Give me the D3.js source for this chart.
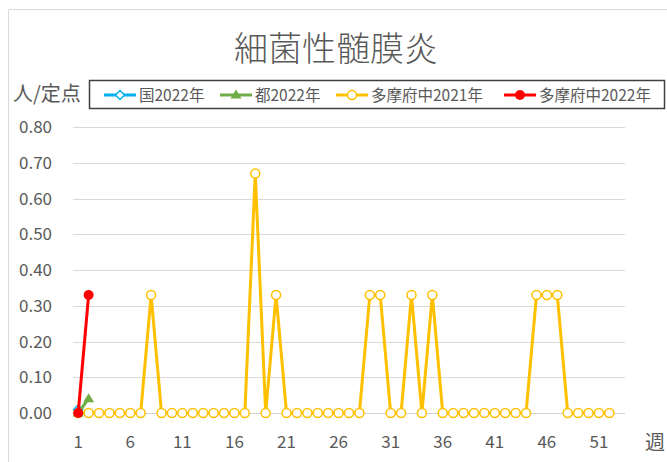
<!DOCTYPE html>
<html>
<head>
<meta charset="utf-8">
<script src="https://cdn.jsdelivr.net/npm/d3@7"></script>
<style>
  body { margin: 0; background: #fff; }
  svg text { font-family: "Noto Sans CJK JP", "Noto Sans", sans-serif; fill: #595959; }
</style>
</head>
<body>
<svg id="chart" width="667" height="462"></svg>
<script>
// weeks 1..53 on the category axis, labels every 5th
var weeks = d3.range(1, 54)
var weekTicks = [1, 6, 11, 16, 21, 26, 31, 36, 41, 46, 51]
var yTicks = [0, 0.1, 0.2, 0.3, 0.4, 0.5, 0.6, 0.7, 0.8]

// series values (人/定点)
var kuni2022 = [0.01]
var to2022 = [0, 0.04]
var tama2021 = [0, 0, 0, 0, 0, 0, 0, 0.33, 0, 0, 0, 0, 0, 0, 0, 0, 0, 0.67, 0, 0.33,
  0, 0, 0, 0, 0, 0, 0, 0, 0.33, 0.33, 0, 0, 0.33, 0, 0.33, 0, 0, 0, 0, 0,
  0, 0, 0, 0, 0.33, 0.33, 0.33, 0, 0, 0, 0, 0]
var tama2022 = [0, 0.33]

var seriesNames = ["国2022年", "都2022年", "多摩府中2021年", "多摩府中2022年"]
var seriesColors = ["#00b0f0", "#70ad47", "#ffc000", "#ff0000"]

var svg = d3.select("#chart")

// outer chart border
svg.append("path")
  .attr("d", "M8.5,462 L8.5,9.5 L667,9.5")
  .attr("fill", "none")
  .attr("stroke", "#d9d9d9")

var x = d3.scaleBand().domain(weeks).range([73, 625])
var y = d3.scaleLinear().domain([0, 0.8]).range([413, 127])
function cx(i) { return x(weeks[i]) + x.bandwidth() / 2 }

// title
svg.append("text")
  .attr("x", 336).attr("y", 61)
  .attr("text-anchor", "middle")
  .style("font-size", "34px")
  .style("font-weight", 300)
  .text("細菌性髄膜炎")

// gridlines
svg.append("g").selectAll("line")
  .data(yTicks)
  .enter().append("line")
  .attr("x1", 73).attr("x2", 625)
  .attr("y1", function(d) { return Math.round(y(d)) + 0.5 })
  .attr("y2", function(d) { return Math.round(y(d)) + 0.5 })
  .attr("stroke", function(d) { return d == 0 ? "#d0d0d0" : "#d9d9d9" })

// y tick labels
svg.append("g").selectAll("text")
  .data(yTicks)
  .enter().append("text")
  .attr("x", 52)
  .attr("y", function(d) { return y(d) + 6 })
  .attr("text-anchor", "end")
  .style("font-size", "17px")
  .text(function(d) { return d.toFixed(2) })

// x tick labels
svg.append("g").selectAll("text")
  .data(weekTicks)
  .enter().append("text")
  .attr("x", function(d) { return x(d) + x.bandwidth() / 2 })
  .attr("y", 448)
  .attr("text-anchor", "middle")
  .style("font-size", "17px")
  .text(function(d) { return d })

// axis titles
svg.append("text").attr("x", 13).attr("y", 101)
  .style("font-size", "20px").text("人/定点")
svg.append("text").attr("x", 645).attr("y", 450)
  .style("font-size", "20px").text("週")

// legend
svg.append("rect")
  .attr("x", 89.5).attr("y", 80.5)
  .attr("width", 575).attr("height", 28)
  .attr("fill", "#fff")
  .attr("stroke", "#404040")
  .attr("stroke-width", 1.5)

var legendX = [104, 220, 336, 504]
var legend = svg.append("g")
seriesNames.forEach(function(name, i) {
  var g = legend.append("g").attr("transform", "translate(" + legendX[i] + ",95)")
  g.append("line").attr("x1", 0).attr("x2", 32)
    .attr("stroke", seriesColors[i]).attr("stroke-width", 3)
  drawMarker(g, i, 16, 0)
  g.append("text").attr("x", 35).attr("y", 6)
    .style("font-size", "15.5px").text(name)
})

function drawMarker(g, i, px, py) {
  if (i == 0) {
    g.append("path")
      .attr("d", "M" + px + "," + (py - 4.5) + " l4.5,4.5 l-4.5,4.5 l-4.5,-4.5 z")
      .attr("fill", "#fff").attr("stroke", seriesColors[i]).attr("stroke-width", 1.5)
  } else if (i == 1) {
    g.append("path")
      .attr("d", "M" + px + "," + (py - 5.5) + " l5.5,9 l-11,0 z")
      .attr("fill", seriesColors[i])
  } else if (i == 2) {
    g.append("circle").attr("cx", px).attr("cy", py).attr("r", 4.5)
      .attr("fill", "#fff").attr("stroke", seriesColors[i]).attr("stroke-width", 1.5)
  } else {
    g.append("circle").attr("cx", px).attr("cy", py).attr("r", 5)
      .attr("fill", seriesColors[i])
  }
}

// series lines and markers
var allSeries = [kuni2022, to2022, tama2021, tama2022]
var line = d3.line()
  .x(function(d, i) { return cx(i) })
  .y(function(d) { return y(d) })

var order = [2, 0, 1, 3]
order.forEach(function(s) {
  var data = allSeries[s]
  var g = svg.append("g")
  if (data.length > 1) {
    g.append("path")
      .datum(data)
      .attr("d", line)
      .attr("fill", "none")
      .attr("stroke", seriesColors[s])
      .attr("stroke-width", 3)
      .attr("stroke-linejoin", "round")
  }
  data.forEach(function(d, i) {
    drawMarker(g, s, cx(i), y(d))
  })
})
</script>
</body>
</html>
